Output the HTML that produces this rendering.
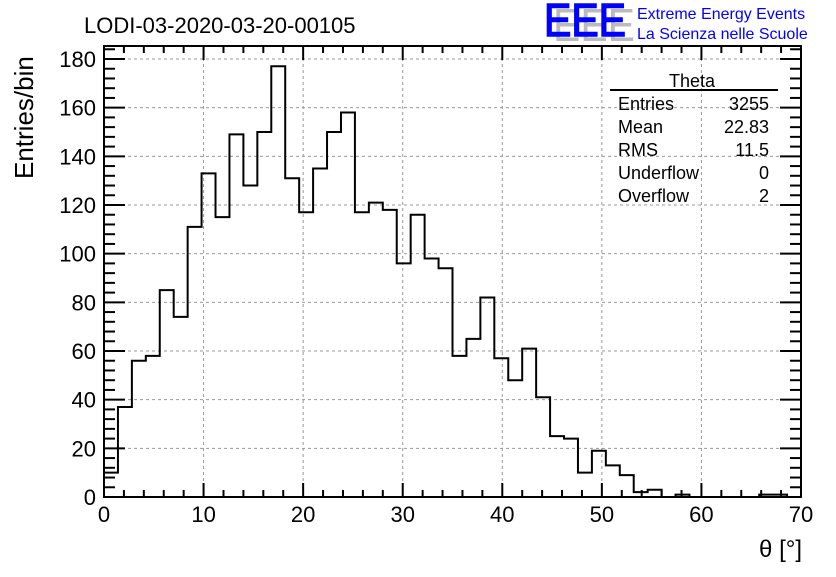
<!DOCTYPE html>
<html><head><meta charset="utf-8"><style>
body{margin:0;background:#fff;}
svg text{font-family:"Liberation Sans",sans-serif;}
</style></head><body>
<svg id="chart" width="836" height="572" xmlns="http://www.w3.org/2000/svg">
<rect width="836" height="572" fill="#fff"/>
<text x="84" y="33" font-size="22">LODI-03-2020-03-20-00105</text>
<g>
<text x="553" y="41" font-size="46" fill="#bbb" textLength="82" lengthAdjust="spacingAndGlyphs">EEE</text>
<text x="544" y="36" font-size="46" fill="#0000ff" stroke="#0000ff" stroke-width="1.5" textLength="82" lengthAdjust="spacingAndGlyphs">EEE</text>
<text x="637" y="19" font-size="16" fill="#0000ff">Extreme Energy Events</text>
<text x="637" y="39" font-size="16" fill="#0000ff">La Scienza nelle Scuole</text>
</g>
<g id="grid"></g>
<g id="hist"></g>
<rect x="104" y="46" width="697" height="451" fill="none" stroke="#000" stroke-width="2"/>
<g id="axes"></g>
<text transform="translate(33,179) rotate(-90)" font-size="26" text-anchor="start">Entries/bin</text>
<text x="802" y="557" font-size="24" text-anchor="end">θ [°]</text>
<g font-size="18">
<text x="692" y="87" text-anchor="middle">Theta</text>
<line x1="610" y1="90" x2="778" y2="90" stroke="#000" stroke-width="2"/>
<text x="618" y="110">Entries</text><text x="769" y="110" text-anchor="end">3255</text>
<text x="618" y="133">Mean</text><text x="769" y="133" text-anchor="end">22.83</text>
<text x="618" y="156">RMS</text><text x="769" y="156" text-anchor="end">11.5</text>
<text x="618" y="179">Underflow</text><text x="769" y="179" text-anchor="end">0</text>
<text x="618" y="202">Overflow</text><text x="769" y="202" text-anchor="end">2</text>
</g>
</svg>
<script>
const counts=[10,37,56,58,85,74,111,133,115,149,128,150,177,131,117,135,150,158,117,121,118,96,116,98,94,58,65,82,57,48,61,41,25,24,10,19,13,9,2,3,0,1,0,0,0,0,0,1,1,0];
const xTicks=[0,10,20,30,40,50,60,70];
const yTicks=[0,20,40,60,80,100,120,140,160,180];
const binWidth=1.4;
const NS="http://www.w3.org/2000/svg";
const X0=104,X1=801,Y0=497,Y1=59;
const sx=v=>X0+(v/70)*(X1-X0);
const sy=v=>Y0-(v/180)*(Y0-Y1);
function mk(tag,attrs,parent){const e=document.createElementNS(NS,tag);for(const k in attrs)e.setAttribute(k,attrs[k]);parent.appendChild(e);return e;}
const grid=document.getElementById('grid'),axes=document.getElementById('axes'),hist=document.getElementById('hist');
xTicks.forEach(t=>{
 if(t>0&&t<70){const l=mk('line',{x1:sx(t),x2:sx(t),y1:46,y2:497,stroke:'#999','stroke-dasharray':'3,3'},grid);
 
 }
 const tx=mk('text',{x:sx(t),y:522,'font-size':22,'text-anchor':'middle'},axes);tx.textContent=t;
 
 
});
for(let t=0;t<=70;t+=2){const big=t%10===0;
 mk('line',{x1:sx(t),x2:sx(t),y1:497,y2:497-(big?14:7),stroke:'#000','stroke-width':2},axes);
 mk('line',{x1:sx(t),x2:sx(t),y1:46,y2:46+(big?14:7),stroke:'#000','stroke-width':2},axes);}
yTicks.forEach(t=>{
 if(t>0){const l=mk('line',{x1:104,x2:801,y1:sy(t),y2:sy(t),stroke:'#999','stroke-dasharray':'3,3'},grid);
 
 }
 const tx=mk('text',{x:96,y:sy(t)+8,'font-size':22,'text-anchor':'end'},axes);tx.textContent=t;
 
 
});
for(let t=0;t<=185;t+=4){const big=t%20===0;if(sy(t)<46)break;
 mk('line',{x1:104,x2:104+(big?21:11),y1:sy(t),y2:sy(t),stroke:'#000','stroke-width':2},axes);
 mk('line',{x1:801,x2:801-(big?21:11),y1:sy(t),y2:sy(t),stroke:'#000','stroke-width':2},axes);}
let d='M'+sx(0)+','+sy(0);
counts.forEach((c,i)=>{d+=' L'+sx(i*binWidth)+','+sy(c)+' L'+sx((i+1)*binWidth)+','+sy(c);});
d+=' L'+sx(counts.length*binWidth)+','+sy(0);
const p=mk('path',{d:d,fill:'none',stroke:'#000','stroke-width':2},hist);


</script>
</body></html>
